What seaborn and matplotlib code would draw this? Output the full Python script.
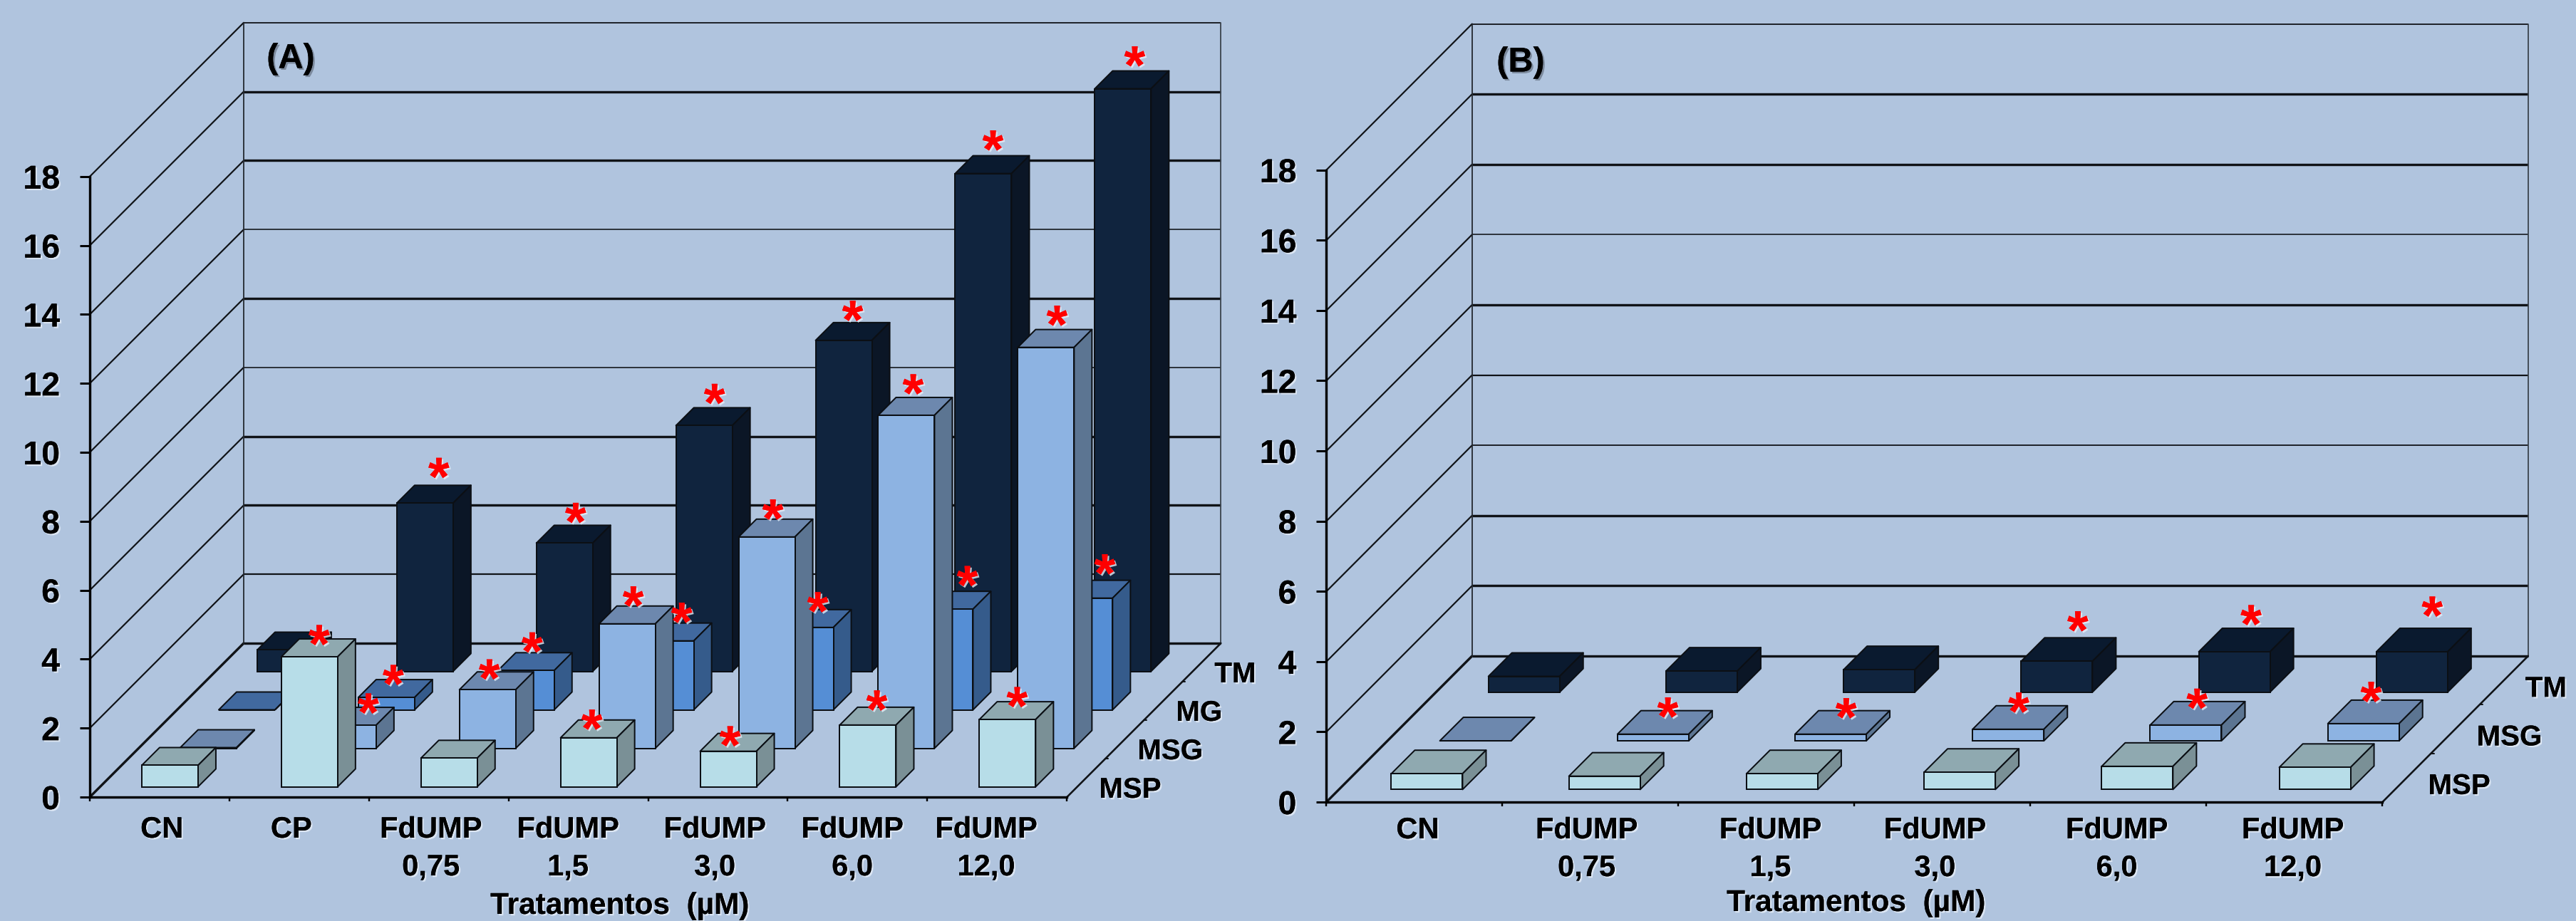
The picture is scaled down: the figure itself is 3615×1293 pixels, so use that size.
import numpy as np
import pandas as pd
import matplotlib
matplotlib.use("Agg")
import matplotlib.pyplot as plt
import matplotlib.patheffects as pe
from matplotlib.patches import Polygon
import seaborn as sns

# ---------- data ----------
rows_a = ["MSP", "MSG", "MG", "TM"]
rows_b = ["MSP", "MSG", "TM"]
cats_a = ["CN", "CP", "FdUMP\n0,75", "FdUMP\n1,5", "FdUMP\n3,0", "FdUMP\n6,0", "FdUMP\n12,0"]
cats_b = ["CN", "FdUMP\n0,75", "FdUMP\n1,5", "FdUMP\n3,0", "FdUMP\n6,0", "FdUMP\n12,0"]
y_ticks = [0, 2, 4, 6, 8, 10, 12, 14, 16, 18]

a_msp = [0.62, 3.77, 0.83, 1.42, 1.03, 1.79, 1.95]
a_msg = [0.02, 0.67, 1.70, 3.61, 6.13, 9.66, 11.63]
a_mg = [0.00, 0.36, 1.14, 2.00, 2.39, 2.92, 3.24]
a_tm = [0.62, 4.88, 3.72, 7.13, 9.60, 14.44, 16.90]

b_msp = [0.45, 0.38, 0.45, 0.49, 0.66, 0.63]
b_msg = [0.00, 0.19, 0.19, 0.33, 0.45, 0.49]
b_tm = [0.45, 0.60, 0.64, 0.88, 1.15, 1.15]

# ---------- annotation placement (px relative to the top of each bar; nan = no star) ----------
n = np.nan
a_star_dx = [[n, 13.5, n, 4.5, 2.5, 12.5, 13.5],
             [n, 28.5, 2.5, 8.5, 8.5, 9.5, 15.5],
             [n, 9.5, 8.5, 22.5, 17.5, 31.5, 28.5],
             [n, 19.5, 15.5, 14.5, 12.5, 13.5, 16.5]]
a_star_dy = [[n, 30, n, 25, 20.6, 34, 31],
             [n, 30, 28, 38, 38, 43, 44],
             [n, 31, 39, 39, 35, 46, 47],
             [n, 49, 42, 44, 41, 46, 45]]
b_star_dx = [[n] * 6,
             [n, 20.7, 21.7, 14.7, 15.7, 10.7],
             [n, n, n, 29.4, 23.4, 28.4]]
b_star_dy = [[n] * 6,
             [n, 37, 36, 37, 36.5, 44],
             [n, n, n, 55.7, 51, 63]]

label_pos_a = [0.516, 1.443, 2.443, 3.425, 4.477, 5.462, 6.421]
label_pos_b = [0.518, 1.478, 2.522, 3.457, 4.490, 5.490]
grid_w_a = [3.4, 2.2, 3.4, 3.4, 1.6, 3.4, 1.6, 3.4, 3.4, 1.8]
grid_w_b = [3.4, 3.4, 3.4, 1.8, 2.2, 3.4, 1.6, 3.4, 3.4, 1.8]

# ---------- styles ----------
BG = "#B0C4DE"
EDGE = "#0B0F14"
STYLE = {  # front, top, side
    "MSP": ("#B7DDE8", "#8FA9B0", "#7A9096"),
    "MSG": ("#8DB3E2", "#6D88AE", "#5C7592"),
    "MG": ("#558ED5", "#41699F", "#355B8B"),
    "TM": ("#10243E", "#0A1A2F", "#0B1626"),
}
FW, FH, DPI = 3616, 1293, 100
PT = 72 / DPI

sns.set_theme(style="ticks", rc={"figure.facecolor": BG, "axes.facecolor": "none",
                                 "savefig.facecolor": BG})
plt.rcParams["font.family"] = ["Liberation Sans", "DejaVu Sans"]

fig = plt.figure(figsize=(FW / DPI, FH / DPI), dpi=DPI)
shadow = [pe.withSimplePatchShadow(offset=(1.6, -1.6), shadow_rgbFace="#E6EEF8", alpha=0.8), pe.Normal()]


def panel(left, bottom, cat_px, unit, depth_dx, depth_dy, bar_w, bar_d, cats, rows, series,
          label_pos, grid_w, star_dx, star_dy, tag, tag_xy, title_xy, row_dy, spread, xpad):
    ncat = len(cats)
    ax = fig.add_axes([left / FW, 1 - bottom / FH, cat_px * ncat / FW, unit * 18 / FH])
    DX = depth_dx / cat_px
    DY = depth_dy / unit
    nrow = len(rows)

    # walls and floor
    for lvl, w in zip(y_ticks, grid_w):
        ax.plot([DX, DX + ncat], [lvl + DY] * 2, color="#101317", lw=w * PT,
                clip_on=False, zorder=1, solid_capstyle="butt")
        ax.plot([0, DX], [lvl, lvl + DY], color="#101317",
                lw=(3.4 if lvl == 0 else 2.2) * PT, clip_on=False, zorder=1)
    ax.plot([DX, DX], [DY, 18 + DY], color="#22282F", lw=1.8 * PT, clip_on=False, zorder=1)
    ax.plot([DX + ncat] * 2, [DY, 18 + DY], color="#3A424C", lw=1.8 * PT, clip_on=False, zorder=1)
    ax.plot([ncat, ncat + DX], [0, DY], color="#101317", lw=2.6 * PT, clip_on=False, zorder=1)
    for k in range(1, nrow):
        f = k / nrow
        ax.plot([ncat + DX * f, ncat + DX * f + 4 / cat_px], [DY * f, DY * f], color="#101317",
                lw=2 * PT, clip_on=False, zorder=1)

    bw = bar_w / cat_px
    dxb, dyb = bar_d / cat_px, bar_d / unit
    for r, (name, vals) in enumerate(zip(rows, series)):
        front, top, side = STYLE[name]
        depth = (r + 0.5) / nrow - (bar_d / depth_dx) / 2
        x0 = depth * DX
        y0 = depth * DY
        z = 10 + (nrow - r) * 10
        centers = 0.5 + np.arange(ncat) * spread + x0
        df = pd.DataFrame({"pos": centers, "value": vals})
        sns.barplot(data=df, x="pos", y="value", native_scale=True, orient="x", ax=ax,
                    width=bw / spread, bottom=y0, color=front, saturation=1, errorbar=None,
                    edgecolor=EDGE, linewidth=2 * PT, zorder=z + 2, clip_on=False)
        for i, v in enumerate(vals):
            xl = centers[i] - bw / 2
            xr = xl + bw
            yt = y0 + v
            ax.add_patch(Polygon([(xl, yt), (xr, yt), (xr + dxb, yt + dyb), (xl + dxb, yt + dyb)],
                                 closed=True, fc=top, ec=EDGE, lw=2 * PT, zorder=z,
                                 clip_on=False, joinstyle="round"))
            ax.add_patch(Polygon([(xr, y0), (xr + dxb, y0 + dyb), (xr + dxb, yt + dyb), (xr, yt)],
                                 closed=True, fc=side, ec=EDGE, lw=2 * PT, zorder=z,
                                 clip_on=False, joinstyle="round"))
            if not np.isnan(star_dx[r][i]):
                ax.annotate("*", xy=(centers[i], yt), xycoords="data",
                            xytext=(star_dx[r][i] * PT, (star_dy[r][i] - 38) * PT),
                            textcoords="offset points", ha="center", va="baseline",
                            fontsize=55, fontweight="bold", color="#FF0000", zorder=200,
                            annotation_clip=False, path_effects=shadow)
        ax.annotate(name, xy=(ncat + (r + 0.5) / nrow * DX, (r + 0.5) / nrow * DY), xycoords="data",
                    xytext=(row_dy[0] * PT, row_dy[1] * PT), textcoords="offset points",
                    ha="left", va="center", fontsize=29, fontweight="bold", color="black",
                    annotation_clip=False, path_effects=shadow)

    ax.set_xlim(0, ncat)
    ax.set_ylim(0, 18)
    sns.despine(ax=ax)
    for s in ("left", "bottom"):
        ax.spines[s].set_linewidth(3.4 * PT)
        ax.spines[s].set_color("black")
        ax.spines[s].set_zorder(5)
    ax.set_yticks(y_ticks)
    ax.set_yticklabels([str(t) for t in y_ticks], fontsize=33.5, fontweight="bold", color="black",
                       path_effects=shadow)
    ax.tick_params(axis="y", length=14 * PT, width=3 * PT, pad=28 * PT, color="black")
    ax.set_xticks(label_pos)
    ax.set_xticklabels(cats, fontsize=30, fontweight="bold", color="black", linespacing=1.42,
                       path_effects=shadow)
    ax.set_xticks(np.arange(ncat + 1), minor=True)
    ax.tick_params(axis="x", which="major", length=0, pad=xpad * PT)
    ax.tick_params(axis="x", which="minor", length=6 * PT, width=2.4 * PT, color="black")
    ax.set_ylabel("")
    ax.set_xlabel("Tratamentos  (µM)", fontsize=30.5, fontweight="bold", color="black",
                  path_effects=shadow)
    ax.xaxis.set_label_coords((title_xy[0] - left) / (cat_px * ncat), (bottom - title_xy[1]) / (unit * 18))
    ax.xaxis.label.set_verticalalignment("center")
    ax.text((tag_xy[0] - left) / cat_px, (bottom - tag_xy[1]) / unit, tag, ha="center", va="center",
            fontsize=35, fontweight="bold", color="black", clip_on=False, zorder=300,
            path_effects=[pe.withSimplePatchShadow(offset=(1.8, -1.8), shadow_rgbFace="#5A6472", alpha=0.6),
                          pe.Normal()])
    return ax


panel(126, 1119, 195.9, 48.4, 216, 216, 79, 25, cats_a, rows_a, [a_msp, a_msg, a_mg, a_tm],
      label_pos_a, grid_w_a, a_star_dx, a_star_dy, "(A)", (408, 83), (870, 1272), (18, -17), 1.0, 26)
panel(1861.4, 1126, 247, 49.3, 204.4, 205, 100, 33, cats_b, rows_b, [b_msp, b_msg, b_tm],
      label_pos_b, grid_w_b, b_star_dx, b_star_dy, "(B)", (2134, 88), (2605, 1268), (30, -12), 1.009, 20)

fig.savefig("out.png", dpi=DPI, facecolor=BG)
